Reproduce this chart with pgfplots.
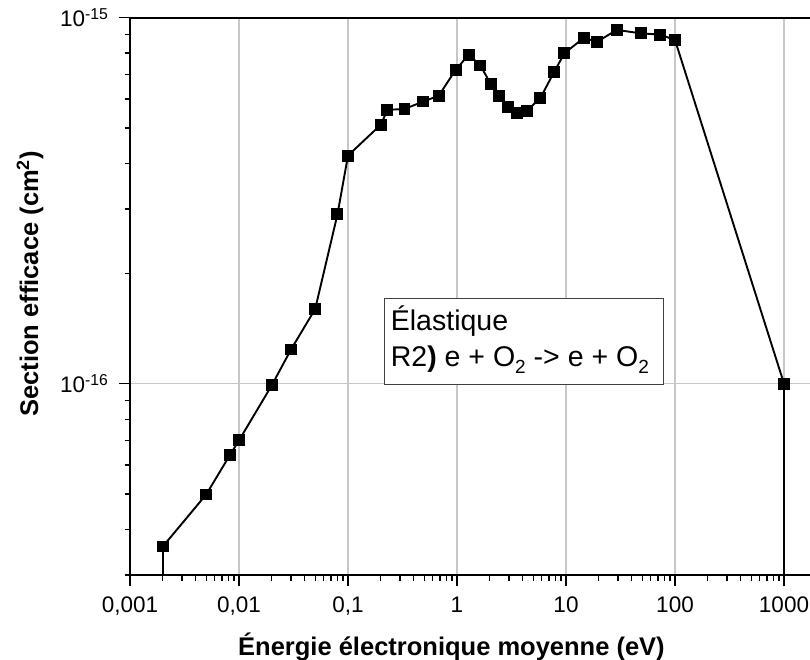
\documentclass[border=0pt]{standalone}
\usepackage{pgfplots}
\pgfplotsset{compat=1.18}
\usepackage{fontspec}
\setmainfont{Liberation Sans}
\begin{document}
\begin{tikzpicture}
\begin{axis}[
  name=ax,
  at={(0,0)}, anchor=south west,
  scale only axis,
  width=683pt, height=557.4pt,
  xmode=log, ymode=log,
  xmin=0.001, xmax=1845, ymin=3e-17, ymax=1e-15,
  xtick={0.001,0.01,0.1,1,10,100,1000},
  xticklabels={{0,001},{0,01},{0,1},1,10,100,1000},
  minor xtick={0.002,0.003,0.004,0.005,0.006,0.007,0.008,0.009,
               0.02,0.03,0.04,0.05,0.06,0.07,0.08,0.09,
               0.2,0.3,0.4,0.5,0.6,0.7,0.8,0.9,
               2,3,4,5,6,7,8,9,20,30,40,50,60,70,80,90,
               200,300,400,500,600,700,800,900},
  ytick={1e-16,1e-15},
  yticklabels={10\textsuperscript{-16},10\textsuperscript{-15}},
  minor ytick={3e-17,4e-17,5e-17,6e-17,7e-17,8e-17,9e-17,
               2e-16,3e-16,4e-16,5e-16,6e-16,7e-16,8e-16,9e-16},
  tick align=outside,
  xtick pos=bottom, ytick pos=left,
  major tick length=11pt, minor tick length=5.5pt,
  every tick/.style={black, line width=1.3pt},
  grid=major,
  major grid style={black!22, line width=1.2pt},
  axis line style={line width=2.2pt},
  tick label style={font=\fontsize{22.5}{26}\selectfont},
  xticklabel style={yshift=-7pt},
  yticklabel style={xshift=-7pt},
  xlabel={Énergie électronique moyenne (eV)},
  ylabel={Section efficace (cm\textsuperscript{2})},
  label style={font=\bfseries\fontsize{25.5}{30}\selectfont},
  xlabel style={at={(rel axis cs:0.4707,-0.145)}, anchor=base},
  ylabel style={at={(rel axis cs:-0.1464,0.5224)}, anchor=center},
]
\addplot[black, line width=1.9pt, no marks] coordinates {(0.002,3e-17) (0.002,3.59e-17)};
\addplot[black, line width=1.9pt, no marks] coordinates {(1000,3e-17) (1000,1e-16)};
\addplot[black, line width=1.9pt, mark=square*, mark size=5pt, mark options={solid}] coordinates {
(0.002,3.59e-17) (0.005,4.98e-17) (0.0083,6.4e-17) (0.01,7.0e-17)
(0.02,9.9e-17) (0.03,1.24e-16) (0.05,1.60e-16) (0.08,2.9e-16)
(0.1,4.2e-16) (0.2,5.1e-16) (0.23,5.6e-16) (0.33,5.63e-16)
(0.49,5.9e-16) (0.68,6.12e-16) (0.97,7.2e-16) (1.28,7.92e-16)
(1.64,7.4e-16) (2.04,6.59e-16) (2.41,6.12e-16) (2.92,5.71e-16)
(3.53,5.48e-16) (4.36,5.57e-16) (5.8,6.02e-16) (7.8,7.12e-16)
(9.66,7.99e-16) (14.5,8.8e-16) (19.4,8.6e-16) (29.2,9.26e-16)
(48.7,9.06e-16) (73,8.99e-16) (100,8.69e-16) (1000,1e-16)
};
\draw[draw=black!75, line width=1pt, fill=white] (rel axis cs:0.3719,0.3418) rectangle (rel axis cs:0.7804,0.4964);
\node[anchor=base west, font=\fontsize{28.5}{34}\selectfont, inner sep=0pt] at (rel axis cs:0.3817,0.4391) {Élastique};
\node[anchor=base west, font=\fontsize{28.5}{34}\selectfont, inner sep=0pt] at (rel axis cs:0.3817,0.3733) {R2\textbf{)} e + O\raisebox{-0.45ex}{\fontsize{19}{20}\selectfont 2} -> e + O\raisebox{-0.45ex}{\fontsize{19}{20}\selectfont 2}};
\end{axis}
\pgfresetboundingbox
\useasboundingbox (-130pt,-85pt) rectangle (680pt,575pt);
\end{tikzpicture}
\end{document}
